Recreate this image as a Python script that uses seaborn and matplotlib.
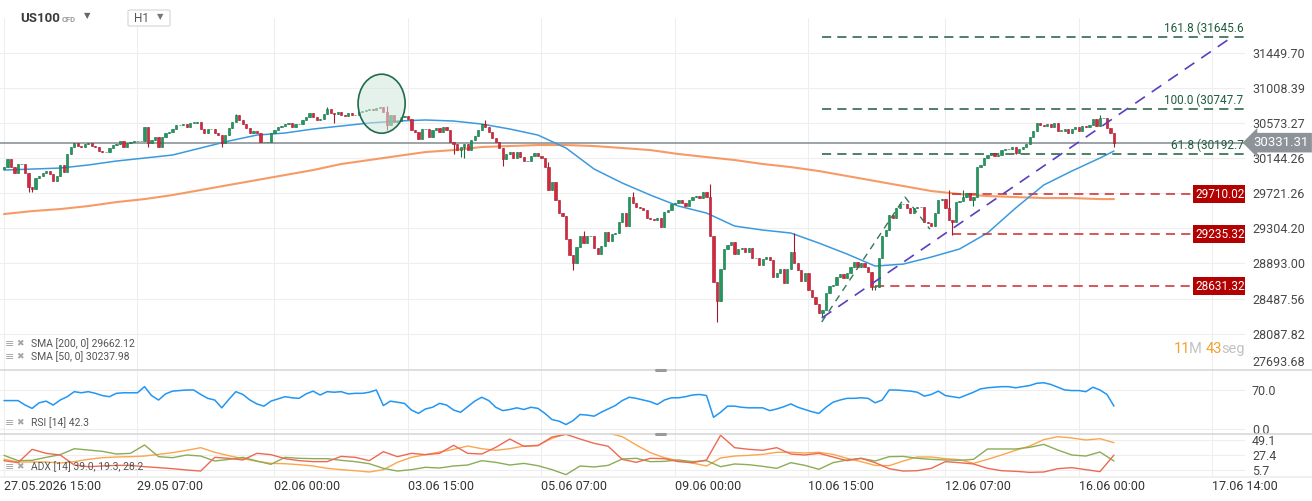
#!/usr/bin/env python3
# US100 CFD, H1 candles with SMA 50/200, fib levels, RSI and ADX panels

import numpy as np
import matplotlib
matplotlib.use('Agg')
import matplotlib.pyplot as plt
import seaborn as sns
from matplotlib.patches import Ellipse, FancyBboxPatch
from matplotlib.lines import Line2D
from matplotlib.ticker import NullLocator

# ---------------------------------------------------------------- data
first_open = 30011
closes = [
    30035, 30132, 30035, 29963, 30072, 30072, 29963, 29795, 29771, 29903,
    29927, 29963, 29987, 29951, 29867, 29927, 30060, 29975, 30193, 30278,
    30327, 30290, 30278, 30315, 30327, 30290, 30278, 30229, 30217, 30217,
    30266, 30302, 30315, 30351, 30278, 30327, 30339, 30351, 30351, 30351,
    30523, 30327, 30363, 30400, 30278, 30400, 30449, 30461, 30498, 30547,
    30547, 30559, 30523, 30572, 30572, 30584, 30498, 30449, 30498, 30498,
    30449, 30425, 30327, 30425, 30510, 30584, 30670, 30609, 30559, 30510,
    30449, 30474, 30449, 30339, 30339, 30339, 30449, 30486, 30523, 30535,
    30559, 30572, 30523, 30559, 30559, 30609, 30646, 30695, 30646, 30609,
    30621, 30683, 30744, 30695, 30683, 30707, 30670, 30658, 30695, 30670,
    30670, 30707, 30720, 30732, 30744, 30732, 30757, 30769, 30707, 30547,
    30670, 30584, 30596, 30646, 30658, 30621, 30486, 30461, 30376, 30498,
    30498, 30400, 30486, 30510, 30461, 30523, 30486, 30339, 30315, 30241,
    30278, 30315, 30241, 30363, 30412, 30486, 30559, 30523, 30461, 30388,
    30339, 30266, 30132, 30193, 30217, 30144, 30217, 30156, 30108, 30108,
    30169, 30205, 30169, 30144, 30035, 29759, 29855, 29639, 29485, 29449,
    29178, 28991, 28898, 29084, 29213, 29131, 29213, 29213, 29073, 29003,
    29096, 29260, 29155, 29237, 29249, 29378, 29485, 29331, 29675, 29604,
    29556, 29544, 29520, 29426, 29414, 29402, 29426, 29319, 29497, 29520,
    29592, 29604, 29639, 29604, 29568, 29639, 29675, 29687, 29663, 29735,
    29675, 29213, 28678, 28460, 28828, 29061, 29108, 29143, 29003, 29061,
    29073, 29026, 29073, 28956, 28956, 28875, 28944, 28968, 28933, 28736,
    28782, 28828, 28667, 28828, 29026, 28898, 28817, 28690, 28782, 28586,
    28506, 28426, 28323, 28357, 28552, 28632, 28644, 28736, 28770, 28724,
    28782, 28852, 28910, 28852, 28898, 28852, 28794, 28621, 28621, 28956,
    29213, 29284, 29461, 29426, 29544, 29592, 29592, 29544, 29485, 29544,
    29556, 29556, 29378, 29366, 29331, 29485, 29639, 29651, 29544, 29402,
    29378, 29615, 29627, 29675, 29723, 29639, 29675, 30035, 30060, 30144,
    30181, 30205, 30169, 30181, 30241, 30254, 30254, 30278, 30205, 30254,
    30278, 30315, 30400, 30474, 30572, 30547, 30535, 30559, 30523, 30572,
    30474, 30474, 30498, 30449, 30498, 30523, 30474, 30535, 30523, 30547,
    30621, 30535, 30633, 30633, 30510, 30449, 30331.31,
]

# only the wicks that stick out clearly
high_wick_bars = [66, 92, 109, 137, 155, 165, 179, 201, 225, 269, 273, 312]
high_wick_prices = [30683, 30769, 30782, 30609, 30096, 29272, 29735, 29831,
                    29249, 29759, 29759, 30670]
low_wick_bars = [7, 8, 41, 62, 94, 109, 128, 130, 131, 142, 162, 203, 233,
                 247, 248, 270, 276, 288, 316]
low_wick_prices = [29735, 29735, 30278, 30278, 30572, 30486, 30193, 30156,
                   30144, 30047, 28817, 28221, 28278, 28586, 28586, 29225,
                   29568, 30193, 30278]

sma_bars = list(range(0, 313, 8)) + [316]
sma50 = [29999, 30011, 30023, 30060, 30108, 30144, 30181, 30266, 30351, 30424,
         30449, 30498, 30535, 30572, 30596, 30609, 30596, 30559, 30498, 30424,
         30266, 30011, 29843, 29699, 29568, 29485, 29331, 29284, 29249, 29131,
         29003, 28863, 28886, 28968, 29061, 29250, 29544, 29819, 29987, 30144,
         30229]
sma200 = [29473, 29508, 29532, 29568, 29615, 29651, 29699, 29759, 29819, 29879,
          29939, 29999, 30072, 30120, 30169, 30217, 30241, 30278, 30290, 30302,
          30302, 30290, 30266, 30241, 30193, 30156, 30120, 30072, 30035, 29987,
          29927, 29867, 29807, 29747, 29711, 29687, 29675, 29663, 29663, 29651,
          29651]

# RSI every 2 bars
rsi_vals = [51, 51, 51, 43, 37, 47, 50, 43, 52, 58,
            67, 65, 67, 64, 60, 58, 64, 65, 65, 65,
            76, 60, 52, 63, 68, 69, 70, 70, 62, 55,
            52, 38, 53, 67, 62, 52, 45, 41, 50, 54,
            58, 56, 55, 63, 68, 61, 67, 66, 67, 63,
            64, 64, 66, 70, 42, 50, 48, 46, 34, 28,
            36, 39, 46, 43, 34, 30, 40, 50, 57, 51,
            39, 33, 35, 38, 35, 39, 37, 28, 17, 14,
            8, 15, 26, 25, 23, 30, 36, 42, 51, 57,
            55, 52, 49, 44, 52, 56, 56, 58, 61, 62,
            60, 21, 30, 41, 41, 39, 38, 38, 38, 33,
            36, 40, 45, 39, 35, 31, 28, 39, 48, 52,
            55, 55, 56, 55, 47, 52, 70, 70, 69, 68,
            66, 59, 62, 68, 60, 58, 56, 61, 66, 72,
            74, 75, 76, 76, 74, 76, 78, 82, 83, 80,
            75, 70, 69, 69, 67, 75, 70, 62, 41]

# ADX / +DI / -DI every 4 bars
adx_vals = [21.1, 17.3, 17.3, 17.3, 15.8, 17.8, 21.1, 23.5, 24.5, 25.0,
            25.9, 28.3, 30.8, 34.2, 38.0, 31.3, 26.4, 22.1, 18.2, 15.3,
            14.8, 13.4, 11.5, 8.1, 6.2, 4.7, 2.8, 6.2, 16.8, 24.0,
            27.9, 31.7, 35.6, 40.4, 36.5, 34.2, 36.5, 40.4, 41.4, 51.5,
            58.0, 61.0, 61.0, 59.0, 53.9, 41.9, 30.8, 23.5, 19.2, 15.8,
            11.5, 23.1, 25.9, 26.9, 28.3, 31.3, 31.3, 30.3, 31.3, 28.3,
            22.6, 17.8, 12.4, 11.9, 18.7, 24.5, 24.5, 22.1, 20.7, 15.3,
            21.1, 27.4, 34.2, 40.4, 49.6, 53.9, 52.0, 49.1, 51.0, 45.2]
plus_di = [26.9, 19.2, 19.7, 24.0, 27.9, 36.5, 34.6, 32.7, 28.8, 29.8,
           41.9, 25.0, 23.5, 27.4, 25.9, 18.7, 21.1, 24.0, 18.7, 13.9,
           24.0, 22.6, 22.1, 22.1, 19.7, 17.8, 14.8, 8.1, 4.2, 6.2,
           9.6, 8.6, 11.5, 12.9, 19.2, 16.8, 12.9, 15.3, 11.9, 6.2,
           -1.0, 11.5, 10.1, 12.4, 21.6, 22.6, 17.8, 18.2, 20.2, 17.8,
           19.2, 10.5, 14.4, 13.4, 11.0, 8.1, 16.3, 12.4, 6.7, 16.3,
           20.2, 22.6, 18.7, 25.0, 25.4, 22.6, 21.1, 20.2, 19.7, 21.1,
           36.1, 36.1, 36.1, 38.5, 42.8, 34.6, 27.4, 25.9, 31.7, 18.7]
minus_di = [19.2, 16.3, 35.6, 29.8, 27.4, 12.9, 10.5, 11.5, 12.4, 12.4,
            10.5, 9.1, 7.6, 5.7, 4.2, 24.0, 22.6, 20.2, 29.8, 27.9,
            22.1, 19.2, 17.8, 17.8, 25.4, 24.0, 19.2, 32.2, 25.0, 29.8,
            27.9, 29.8, 41.4, 29.8, 28.8, 38.5, 50.5, 40.0, 40.9, 53.4,
            57.3, 50.5, 44.3, 40.0, 21.1, 16.8, 22.6, 22.1, 17.8, 16.3,
            20.2, 56.0, 38.0, 35.6, 34.2, 38.0, 28.8, 27.4, 29.8, 24.5,
            19.2, 22.6, 16.3, 7.6, 4.2, 4.7, 8.1, 17.8, 16.3, 14.4,
            8.1, 4.7, 3.8, 2.3, 2.8, 7.6, 9.1, 6.2, 3.3, 27.4]

price_ticks = [27693.68, 28087.82, 28487.56, 28893.00, 29304.20,
               29721.26, 30144.26, 30573.27, 31008.39, 31449.70]
time_bars = [0, 38, 77, 115, 153, 191, 229, 268, 306, 344]
time_labels = ['27.05.2026 15:00', '29.05 07:00', '02.06 00:00', '03.06 15:00',
               '05.06 07:00', '09.06 00:00', '10.06 15:00', '12.06 07:00',
               '16.06 00:00', '17.06 14:00']

fib_levels = [161.8, 100.0, 61.8]
fib_prices = [31645.6, 30747.7, 30192.7]
fib_start = 233

level_prices = [29710.02, 29235.32, 28631.32]
level_start = [270, 270, 248]

trend_bars = [232.8, 349.6]
trend_prices = [28266, 31647]
swing_bars = [232.8, 256.5, 263.6]
swing_prices = [28221, 29675, 29294]

last_price = 30331.31
sma200_last = 29662.12
sma50_last = 30237.98
rsi_last = 42.3
adx_last = [39.0, 19.3, 28.2]

# ---------------------------------------------------------------- style
sns.set_theme(style='white')
plt.rcParams['font.family'] = ['Roboto', 'DejaVu Sans']
plt.rcParams['axes.unicode_minus'] = False

W, H = 1312, 501
fig = plt.figure(figsize=(W / 100, H / 100), dpi=100)
fig.patch.set_facecolor('white')


def add_panel(top, bottom):
    a = fig.add_axes([0, 1 - bottom / H, 1245 / W, (bottom - top) / H])
    a.set_facecolor('none')
    for s in a.spines.values():
        s.set_visible(False)
    return a


def fig_text(x, y, s, **kw):
    return fig.text(x / W, 1 - y / H, s, va='center', **kw)


ax = add_panel(18, 369)
ax_rsi = add_panel(370, 433)
ax_adx = add_panel(434, 476)
x_lo, x_hi = -1.14, 353.3
tag_bar = 338.5

GRID = '#eeeeee'
GREEN, GREEN_EDGE = '#1e9a5e', '#157046'
RED, RED_EDGE = '#d7263d', '#a3182b'

# ---------------------------------------------------------------- main panel
c = np.array(closes, dtype=float)
o = np.r_[first_open, c[:-1]]
bars = np.arange(len(c))
up = c >= o
lo = np.minimum(o, c)
hi = np.maximum(o, c)
wlo, whi = lo.copy(), hi.copy()
for b, p in zip(low_wick_bars, low_wick_prices):
    wlo[b] = min(wlo[b], p)
for b, p in zip(high_wick_bars, high_wick_prices):
    whi[b] = max(whi[b], p)
body = np.maximum(hi - lo, 6)

sns.lineplot(x=sma_bars, y=sma200, ax=ax, color='#f5894b', linewidth=1.5,
             alpha=0.85, legend=False, zorder=2)
sns.lineplot(x=sma_bars, y=sma50, ax=ax, color='#3b9ade', linewidth=1.1,
             legend=False, zorder=2)

for mask, fc, ec in ((up, GREEN, GREEN_EDGE), (~up, RED, RED_EDGE)):
    ax.vlines(bars[mask], wlo[mask], whi[mask], colors=ec, lw=0.8, zorder=3)
    ax.bar(bars[mask], body[mask], bottom=lo[mask], width=0.64, color=fc,
           edgecolor=ec, linewidth=0.4, zorder=4)

ax.axhline(last_price, color='#8d9398', lw=1.2, zorder=1.5)

for lvl, p in zip(fib_levels, fib_prices):
    ax.hlines(p, fib_start, x_hi, colors='#1d5c3d', linestyles=(0, (6, 4)),
              lw=1.1, zorder=2)
    ax.annotate(f'{lvl:.1f} ({p:.1f}', xy=(1, p),
                xycoords=('axes fraction', 'data'), xytext=(-1, 1.5),
                textcoords='offset points', ha='right', va='bottom',
                fontsize=8.5, color='#1d5c3d', zorder=5)

for p, s in zip(level_prices, level_start):
    ax.hlines(p, s, tag_bar, colors='#cc2a2a', linestyles=(0, (6, 4)),
              lw=1.1, zorder=2)
    ax.text(tag_bar + 0.7, p, f'{p:.2f}', color='white', fontsize=8.5,
            va='center', ha='left', clip_on=True, zorder=6,
            bbox=dict(boxstyle='square,pad=0.2', fc='#b30000', ec='none'))

ax.plot(trend_bars, trend_prices, color='#5a3fc0', lw=1.2, dashes=(7, 5),
        zorder=5)
ax.plot(swing_bars, swing_prices, color='#2f7a58', lw=1.0, dashes=(5, 4),
        zorder=5)

ax.add_patch(Ellipse((107.5, 30812), 13.4, 731, fc=(0.82, 0.91, 0.86, 0.55),
                     ec='#1f6b4b', lw=1.2, zorder=5))

ax.annotate(f'{last_price:.2f}', xy=(1, last_price),
            xycoords=('axes fraction', 'data'), xytext=(6, 0),
            textcoords='offset points', ha='left', va='center',
            fontsize=9.5, color='white', annotation_clip=False, zorder=7,
            bbox=dict(boxstyle='larrow,pad=0.25', fc='#8d9398', ec='none'))

ax.set_yscale('log')
ax.set_ylim(27693.0, 31890)
ax.set_xlim(x_lo, x_hi)
ax.yaxis.tick_right()
ax.set_yticks(price_ticks, labels=[f'{v:.2f}' for v in price_ticks])
ax.yaxis.set_minor_locator(NullLocator())
ax.set_xticks(time_bars)
ax.set_xlabel('')
ax.set_ylabel('')
ax.tick_params(axis='x', labelbottom=False, length=0)
ax.tick_params(axis='y', length=0, pad=5, labelsize=9, labelcolor='#474747')
ax.get_yticklabels()[0].set_verticalalignment('bottom')
ax.grid(True, color=GRID, lw=0.8)
ax.set_axisbelow(True)

# ---------------------------------------------------------------- RSI
rsi_bars = np.arange(0, 317, 2)
sns.lineplot(x=rsi_bars, y=rsi_vals, ax=ax_rsi, color='#2196f3',
             linewidth=1.1, legend=False)
ax_rsi.set_xlim(x_lo, x_hi)
ax_rsi.set_ylim(-7.2, 105.9)
ax_rsi.yaxis.tick_right()
ax_rsi.set_yticks([0, 70], labels=['0.0', '70.0'])
ax_rsi.set_xticks(time_bars)
ax_rsi.set_xlabel('')
ax_rsi.set_ylabel('')
ax_rsi.tick_params(axis='x', labelbottom=False, length=0)
ax_rsi.tick_params(axis='y', length=0, pad=5, labelsize=9,
                   labelcolor='#474747')
ax_rsi.grid(True, color=GRID, lw=0.8)

# ---------------------------------------------------------------- ADX
adx_bars = np.arange(0, 317, 4)
sns.lineplot(x=adx_bars, y=adx_vals, ax=ax_adx, color='#fba64c',
             linewidth=1.0, legend=False)
sns.lineplot(x=adx_bars, y=plus_di, ax=ax_adx, color='#8aad55',
             linewidth=1.0, legend=False)
sns.lineplot(x=adx_bars, y=minus_di, ax=ax_adx, color='#ec6a55',
             linewidth=1.0, legend=False)
ax_adx.set_xlim(x_lo, x_hi)
ax_adx.set_ylim(-2.98, 57.78)
ax_adx.yaxis.tick_right()
ax_adx.set_yticks([5.7, 27.4, 49.1], labels=['5.7', '27.4', '49.1'])
ax_adx.set_xticks(time_bars, labels=time_labels)
ax_adx.set_xlabel('')
ax_adx.set_ylabel('')
ax_adx.tick_params(axis='x', length=0, pad=3, labelsize=9, labelcolor='#333333')
ax_adx.tick_params(axis='y', length=0, pad=5, labelsize=9,
                   labelcolor='#474747')
for lbl in ax_adx.get_xticklabels():
    lbl.set_horizontalalignment('left')
ax_adx.grid(True, color=GRID, lw=0.8)

# ---------------------------------------------------------------- frame bits
for y, col in ((369.5, '#d4d4d4'), (433.8, '#d4d4d4'), (476.5, '#ececec')):
    fig.add_artist(Line2D([0, 1], [1 - y / H] * 2, color=col, lw=1.1,
                          transform=fig.transFigure))
for y in (369.5, 433.8):
    fig.add_artist(Line2D([656 / W, 665 / W], [1 - y / H] * 2, color='#9a9a9a',
                          lw=2.2, transform=fig.transFigure))

# header
fig_text(20, 18, 'US100', fontsize=9.5, fontweight='bold', color='#3c3c3c')
fig_text(62, 19, 'CFD', fontsize=5.5, fontweight='bold', color='#9a9a9a')
fig_text(84, 16, '▼', fontsize=6, color='#666666')
fig.add_artist(FancyBboxPatch((128 / W, 1 - 26 / H), 42 / W, 16 / H,
                              boxstyle='round,pad=0,rounding_size=0.002',
                              transform=fig.transFigure, fc='white',
                              ec='#d5d5d5', lw=0.8))
fig_text(134, 18, 'H1', fontsize=8.5, color='#555555')
fig_text(157, 17, '▼', fontsize=6, color='#777777')

# indicator legends
legend_rows = [(344, f'SMA [200, 0] {sma200_last:.2f}'),
               (357, f'SMA [50, 0] {sma50_last:.2f}'),
               (423, f'RSI [14] {rsi_last:.1f}'),
               (467, 'ADX [14] ' + ', '.join(f'{v:.1f}' for v in adx_last))]
for y, s in legend_rows:
    fig_text(5, y, '≡', fontsize=8, color='#a5a5a5')
    fig_text(16, y, '✖', fontsize=6.5, color='#a5a5a5')
    fig_text(31, y, s, fontsize=7.5, color='#555555')

# countdown
for x, s, col in ((1174, '11', '#f7a02e'), (1189, 'M', '#c2c2c2'),
                  (1206, '43', '#f7a02e'), (1221, 'seg', '#c2c2c2')):
    fig_text(x, 349, s, fontsize=10.5, color=col)

fig.savefig('out.png', dpi=100, facecolor='white')
